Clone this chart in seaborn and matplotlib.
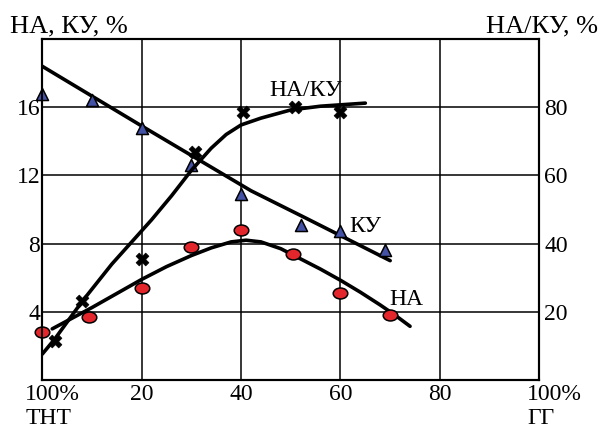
import matplotlib
matplotlib.use("Agg")
import matplotlib.pyplot as plt
from matplotlib.path import Path
from matplotlib.transforms import Affine2D, ScaledTranslation
import seaborn as sns

# КУ, % (triangles, left axis)
ku_x = [0, 10, 20, 30, 40, 52, 60, 69]
ku_y = [16.8, 16.4, 14.8, 12.6, 10.9, 9.1, 8.75, 7.6]
ku_fit_x = [0, 20, 42, 53, 70]
ku_fit_y = [18.4, 14.9, 11.1, 9.5, 7.0]

# НА, % (circles, left axis)
na_x = [0, 9.5, 20, 30, 40, 50.4, 60, 70]
na_y = [2.8, 3.7, 5.4, 7.8, 8.8, 7.4, 5.1, 3.8]
na_fit_x = [2, 10, 20, 25, 30, 34, 38, 41, 44, 48, 52, 56, 60, 64, 68, 71, 74]
na_fit_y = [3.0, 4.25, 5.9, 6.65, 7.3, 7.75, 8.1, 8.2, 8.1, 7.7, 7.1, 6.5, 5.85, 5.15, 4.4, 3.8, 3.15]

# НА/КУ, % (crosses, right axis)
ratio_x = [2.5, 7.9, 20, 30.8, 40.3, 50.8, 60]
ratio_y = [11.5, 23.1, 35.5, 66.8, 78.5, 80.0, 78.5]
ratio_fit_x = [0, 2.5, 5, 8, 11, 14, 18, 22, 26, 30, 34, 37, 40, 44, 50, 56, 65]
ratio_fit_y = [7.6, 12, 17, 23, 28.5, 34, 40.5, 47, 54, 61.5, 68, 72, 74.8, 76.8, 79.2, 80.3, 81.2]

x_ticks = [0, 20, 40, 60, 80, 100]
x_labels = ["100%\nТНТ", "20", "40", "60", "80", "100%\nГГ"]
left_ticks = [4, 8, 12, 16]
right_ticks = [20, 40, 60, 80]

sns.set_theme(style="white")
plt.rcParams['font.family'] = ['Liberation Serif', 'DejaVu Serif']

fig = plt.figure(figsize=(6.11, 4.33), dpi=100)
ax = fig.add_axes([0.0692, 0.1224, 0.8134, 0.7875])
ax2 = ax.twinx()

ax.set_xlim(0, 100)
ax.set_ylim(0, 20)
ax2.set_ylim(0, 100)

ax.grid(True, color="black", linewidth=1.1)
ax.set_axisbelow(True)
for a in (ax, ax2):
    for sp in a.spines.values():
        sp.set_color("black")
        sp.set_linewidth(1.5)

line_kw = dict(color="black", linewidth=2.6, sort=False, estimator=None, legend=False)
sns.lineplot(x=ku_fit_x, y=ku_fit_y, ax=ax, **line_kw)
sns.lineplot(x=na_fit_x, y=na_fit_y, ax=ax, **line_kw)
sns.lineplot(x=ratio_fit_x, y=ratio_fit_y, ax=ax2, **line_kw)

ellipse = Path.unit_circle().transformed(Affine2D().scale(1.0, 0.75))

sns.scatterplot(x=ku_x, y=ku_y, ax=ax, marker="^", s=75, color="#4452a6",
                edgecolor="black", linewidth=1.1, zorder=4, clip_on=False, legend=False)
sns.scatterplot(x=na_x, y=na_y, ax=ax, marker=ellipse, s=110, color="#e3262b",
                edgecolor="black", linewidth=1.1, zorder=4, clip_on=False, legend=False)
sns.scatterplot(x=ratio_x, y=ratio_y, ax=ax2, marker="X", s=85, color="black",
                edgecolor="black", linewidth=0.5, zorder=4, clip_on=False, legend=False)

ax.set_xticks(x_ticks)
ax.set_xticklabels(x_labels)
ax.set_yticks(left_ticks)
ax.set_yticklabels([str(t) for t in left_ticks])
ax2.set_yticks(right_ticks)
ax2.set_yticklabels([str(t) for t in right_ticks])

ax.tick_params(axis="x", length=0, pad=3, labelsize=17, colors="black")
ax.tick_params(axis="y", length=0, pad=1.5, labelsize=17, colors="black")
ax2.tick_params(axis="y", length=0, pad=3.5, labelsize=17, colors="black")

xl = ax.get_xticklabels()
for lab, dx in ((xl[0], -17), (xl[-1], -12)):
    lab.set_horizontalalignment("left")
    lab.set_multialignment("left")
    lab.set_linespacing(1.2)
    lab.set_transform(lab.get_transform() + ScaledTranslation(dx / 100, 0, fig.dpi_scale_trans))

ax.set_xlabel("")
ax.set_ylabel("НА, КУ, %", rotation=0, fontsize=19, ha="left", va="baseline", color="black")
ax.yaxis.set_label_coords(-0.065, 1.018)
ax2.set_ylabel("НА/КУ, %", rotation=0, fontsize=19, ha="right", va="baseline", color="black")
ax2.yaxis.set_label_coords(1.118, 1.02)

ax2.text(53, 85, "НА/КУ", fontsize=17, ha="center", va="center", color="black")
ax.text(65.1, 9.0, "КУ", fontsize=17, ha="center", va="center", color="black")
ax.text(73.2, 4.7, "НА", fontsize=17, ha="center", va="center", color="black")

fig.savefig("out.png", dpi=100)
